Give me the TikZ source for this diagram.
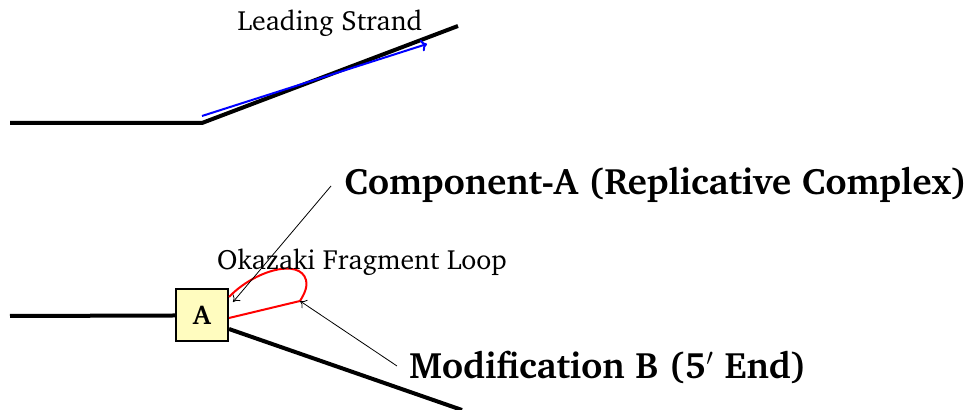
\documentclass[tikz,border=0pt]{standalone}
\usepackage[T1]{fontenc}
\usepackage{charter}
\usetikzlibrary{arrows.meta}
\begin{document}
\begin{tikzpicture}[x=0.5pt,y=-0.5pt,
  strand/.style={line width=2pt,line join=miter},
  pointer/.style={line width=0.4pt,-{To[length=3pt,width=5pt]}},
  biglabel/.style={font=\bfseries\fontsize{18.4}{21}\selectfont,anchor=west,inner sep=0pt},
  smalllabel/.style={font=\fontsize{13.9}{16}\selectfont,inner sep=0pt}]
\useasboundingbox (0,0) rectangle (966,410);
% top
\coordinate (t0) at (10,123);
\coordinate (t1) at (202,123);
\coordinate (t2) at (458,26);
\draw[strand] (t0) -- (t1) -- (t2);
\coordinate (b0) at (202,116);
\coordinate (b1) at (427,44);
\draw[blue,line width=1pt,-{To[length=3pt,width=6pt]}] (b0) -- (b1);
\node[smalllabel] (lead) at (330,23) {Leading Strand};
% bottom
\node[draw,fill=yellow!25,line width=1pt,minimum width=26pt,minimum height=26pt,inner sep=0pt,font=\bfseries\fontsize{13.5}{15}\selectfont] (A) at (202,315.5) {A};
\coordinate (l0) at (10,316);
\coordinate (l2) at (462,410);
\draw[strand] (l0) -- (A.west);
\draw[strand] (A.east |- 0,329) -- (l2);
\coordinate (r0) at (229,297);
\coordinate (r1) at (300,301);
\coordinate (r2) at (229,318);
\draw[red,line width=1pt] (r0) .. controls (255,270) and (300,258) .. (306,280) .. controls (308,288) and (303,296) .. (r1) -- (r2);
\node[smalllabel] (oka) at (362,262) {Okazaki Fragment Loop};
\node[biglabel] (comp) at (344,185) {Component-A (Replicative Complex)};
\node[biglabel] (mod) at (409,367) {Modification B (5$'$ End)};
\coordinate (cp) at (331,186);
\coordinate (ct) at (233,302);
\draw[pointer] (cp) -- (ct);
\coordinate (mp) at (397,366);
\draw[pointer] (mp) -- (r1);
\end{tikzpicture}
\end{document}
